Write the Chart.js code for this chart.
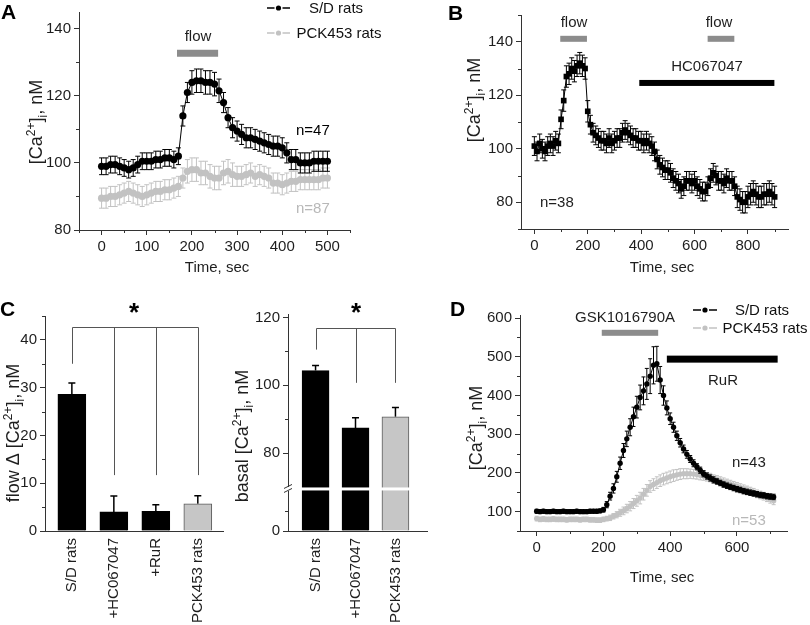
<!DOCTYPE html>
<html>
<head>
<meta charset="utf-8">
<script src="https://cdn.jsdelivr.net/npm/chart.js@4.4.0/dist/chart.umd.min.js"></script>
<style>
  html, body { margin: 0; padding: 0; background: #fff; }
  #figure { position: relative; width: 810px; height: 625px; overflow: hidden; background: #fff; }
  #figure canvas { position: absolute; }
</style>
</head>
<body>
<div id="figure"></div>
<script>
// ---- panel A: flow response, S/D vs PCK453 ----
const timeA = [0, 10, 20, 30, 40, 50, 60, 70, 80, 90, 100, 110, 120, 130, 140, 150, 160, 170, 180, 190,
  200, 210, 220, 230, 240, 250, 260, 270, 280, 290, 300, 310, 320, 330, 340, 350, 360, 370, 380, 390,
  400, 410, 420, 430, 440, 450, 460, 470, 480, 490, 500];
const sdA = [99, 99, 99.5, 99.5, 99, 98.5, 98, 98.5, 99.5, 100.5,
  100.5, 100.5, 101, 101, 101.5, 101.5, 101, 102, 114, 121,
  124, 124.5, 124.5, 124, 124, 123.5, 121.5, 118, 113.5, 110.5,
  109.5, 108.5, 107.5, 107.5, 107, 106.5, 106, 105.5, 105, 105,
  104.5, 103, 101, 101, 100, 100, 100, 100.5, 100.5, 100.5, 100.5];
const sdAErr = [2.5, 2.5, 2.5, 2.5, 2.5, 2.5, 2.5, 2.5, 2.5, 2.5,
  2.5, 2.5, 2.5, 2.5, 2.5, 2.5, 2.5, 2.5, 3, 3,
  3.5, 3.5, 3.5, 3.5, 3.5, 3.5, 3.5, 3, 3, 3,
  3, 3, 3, 3, 3, 3, 3, 3, 3, 3,
  3, 3, 3, 3, 3, 3, 3, 3, 3, 3, 3];
const pckA = [89.5, 89.5, 90, 90, 90.5, 91, 91.5, 91, 90.5, 90,
  90.5, 91, 91.5, 91.5, 92, 92, 92.5, 93, 95.5, 97.5,
  98, 98, 97, 97, 96, 95.5, 95.5, 97, 97.5, 96.5,
  96, 96, 96.5, 97, 96, 96.5, 96, 95.5, 94, 94,
  93.5, 94, 94.5, 94.5, 95, 95, 95, 95, 95, 95.5, 95.5];
const pckAErr = [3, 3, 3, 3, 3, 3, 3, 3, 3, 3,
  3, 3, 3, 3, 3, 3, 3, 3, 3, 3.5,
  3.5, 3.5, 3.5, 3.5, 3.5, 3.5, 3.5, 3.5, 3.5, 3.5,
  3, 3, 3, 3, 3, 3, 3, 3, 3, 3,
  3, 3, 3, 3, 3, 3, 3, 3, 3, 3, 3];
const xTicksA = [0, 100, 200, 300, 400, 500];
const yTicksA = [80, 100, 120, 140];

// ---- panel B: flow before / during HC067047 ----
const timeB = [0, 10, 20, 30, 40, 50, 60, 70, 80, 90, 100, 110, 120, 130, 140, 150, 160, 170, 180, 190,
  200, 210, 220, 230, 240, 250, 260, 270, 280, 290, 300, 310, 320, 330, 340, 350, 360, 370, 380, 390,
  400, 410, 420, 430, 440, 450, 460, 470, 480, 490, 500, 510, 520, 530, 540, 550, 560, 570, 580, 590,
  600, 610, 620, 630, 640, 650, 660, 670, 680, 690, 700, 710, 720, 730, 740, 750, 760, 770, 780, 790,
  800, 810, 820, 830, 840, 850, 860, 870, 880, 890, 900];
const sdB = [101, 99, 102, 100, 99, 101, 102, 101, 103, 102,
  111, 118, 127, 128, 130, 129, 131, 132, 131, 130,
  114, 109, 106, 105, 104, 103, 103, 102, 104, 102,
  103, 104, 104, 106, 107, 106, 105, 104, 104, 103,
  103, 102, 103, 102, 101, 99, 96, 94, 93, 92,
  92, 91, 89, 88, 87, 85, 86, 88, 88, 87,
  88, 86, 85, 84, 84, 86, 89, 91, 90, 88,
  88, 87, 89, 88, 88, 86, 82, 81, 80, 80,
  82, 83, 84, 83, 82, 82, 83, 83, 84, 83, 82];
const sdBErr = [3.5, 3.5, 3.5, 3.5, 3.5, 3.5, 3.5, 3.5, 3.5, 3.5,
  3.5, 4, 4, 4, 4, 4, 4, 4, 4, 4,
  4, 3.5, 3.5, 3.5, 3.5, 3.5, 3.5, 3.5, 3.5, 3.5,
  3.5, 3.5, 3.5, 3.5, 3.5, 3.5, 3.5, 3.5, 3.5, 3.5,
  3.5, 3.5, 3.5, 3.5, 3.5, 3.5, 3.5, 3.5, 3.5, 3.5,
  3.5, 3.5, 3.5, 3.5, 3.5, 3.5, 3.5, 3.5, 3.5, 3.5,
  3.5, 3.5, 3.5, 3.5, 3.5, 3.5, 3.5, 3.5, 3.5, 3.5,
  3.5, 3.5, 3.5, 3.5, 3.5, 3.5, 4, 4, 4, 4,
  4, 4, 4, 4, 4, 4, 4, 4, 4, 4, 4];
const xTicksB = [0, 200, 400, 600, 800];
const yTicksB = [80, 100, 120, 140];

// ---- panel C: summary bars ----
const flowLabels = ['S/D rats', '+HC067047', '+RuR', 'PCK453 rats'];
const flowDelta = [28.6, 4.0, 4.1, 5.7];
const flowDeltaErr = [2.4, 3.3, 1.4, 1.7];
const yTicksFlow = [0, 10, 20, 30, 40];
const basalLabels = ['S/D rats', '+HC067047', 'PCK453 rats'];
const basalCa = [104.3, 87.4, 90.7];
const basalCaErr = [1.5, 3.0, 2.7];
const basalFloor = 57;            // axis position where the broken axis shows "0"
const yTicksBasal = [57, 80, 100, 120];

// ---- panel D: GSK1016790A response ----
const timeD = [0, 10, 20, 30, 40, 50, 60, 70, 80, 90, 100, 110, 120, 130, 140, 150, 160, 170, 180, 190,
  200, 210, 220, 230, 240, 250, 260, 270, 280, 290, 300, 310, 320, 330, 340, 350, 360, 370, 380, 390,
  400, 410, 420, 430, 440, 450, 460, 470, 480, 490, 500, 510, 520, 530, 540, 550, 560, 570, 580, 590,
  600, 610, 620, 630, 640, 650, 660, 670, 680, 690, 700, 710];
const sdD = [101, 100, 101, 100, 100, 101, 100, 100, 101, 100, 100, 100, 101, 100, 100, 100, 101, 101, 101, 102,
  105, 118, 140, 160, 190, 225, 258, 288, 318, 345,
  370, 395, 412, 430, 450, 478, 482, 440, 400, 368,
  340, 318, 296, 278, 262, 248, 236, 225, 216, 207,
  198, 192, 187, 182, 178, 174, 170, 167, 164, 161,
  158, 156, 153, 151, 149, 147, 145, 143, 142, 140,
  139, 138];
const sdDErr = [5, 5, 5, 5, 5, 5, 5, 5, 5, 5, 5, 5, 5, 5, 5, 5, 5, 5, 5, 5,
  6, 8, 10, 12, 14, 16, 18, 20, 22, 25,
  28, 32, 36, 40, 45, 48, 45, 35, 25, 18,
  15, 13, 12, 11, 10, 10, 9, 9, 8, 8,
  8, 8, 8, 8, 7, 7, 7, 7, 7, 7,
  7, 7, 7, 7, 7, 7, 7, 7, 7, 7,
  7, 7];
const pckD = [82, 80, 81, 80, 80, 81, 80, 80, 80, 79, 80, 80, 80, 79, 80, 80, 79, 79, 78, 78,
  80, 82, 84, 88, 92, 97, 102, 108, 114, 121,
  128, 135, 145, 155, 165, 170, 175, 180, 184, 187,
  190, 193, 195, 197, 198, 198, 198, 197, 196, 194,
  192, 190, 188, 185, 183, 180, 177, 174, 171, 168,
  165, 162, 159, 156, 153, 150, 146, 143, 140, 136,
  132, 128];
const pckDErr = [6, 6, 6, 6, 6, 6, 6, 6, 6, 6, 6, 6, 6, 6, 6, 6, 6, 6, 6, 6,
  6, 6, 7, 7, 8, 9, 10, 11, 12, 13,
  14, 15, 15, 15, 15, 15, 15, 15, 15, 15,
  15, 15, 14, 14, 13, 13, 12, 12, 12, 12,
  11, 11, 11, 10, 10, 10, 10, 10, 10, 10,
  10, 10, 10, 10, 10, 10, 10, 10, 10, 10,
  10, 10];
const xTicksD = [0, 200, 400, 600];
const yTicksD = [100, 200, 300, 400, 500, 600];

// ---- look ----
const FONT = '"Liberation Sans", Arial, Helvetica, sans-serif';
const AXIS = '#333';
const TXT = '#1e1e1e';
const GRAY = '#c2c2c2';
const FLOW = '#8c8c8c';
Chart.defaults.font.family = FONT;
Chart.defaults.font.size = 15;
Chart.defaults.color = TXT;

const CA = [{ t: '[Ca' }, { t: '2+', sup: true }, { t: ']' }, { t: 'i', sub: true }, { t: ', nM' }];
const withPrefix = p => [{ t: p + CA[0].t }].concat(CA.slice(1));
const TITLE_SIZE = 18;

// page boxes [left, top, width, height]
const BOX_A = [0, 0, 405, 292];
const BOX_B = [405, 0, 405, 292];
const BOX_C1 = [0, 295, 230, 330];
const BOX_C2 = [230, 295, 210, 330];
const BOX_D = [440, 295, 370, 330];

function makeCanvas(box) {
  const c = document.createElement('canvas');
  c.width = box[2]; c.height = box[3];
  c.style.left = box[0] + 'px'; c.style.top = box[1] + 'px';
  c.style.width = box[2] + 'px'; c.style.height = box[3] + 'px';
  document.getElementById('figure').appendChild(c);
  return c;
}

function drawText(ctx, parts, x, y, o) {
  const size = o.size || 15, small = Math.round(size * 0.68);
  const fontOf = p => (o.bold ? 'bold ' : '') + (p.sup || p.sub ? small : size) + 'px ' + FONT;
  ctx.save();
  ctx.translate(x, y);
  if (o.rotate) ctx.rotate(o.rotate * Math.PI / 180);
  let w = 0;
  parts.forEach(p => { ctx.font = fontOf(p); w += ctx.measureText(p.t).width; });
  let cx = o.align === 'left' ? 0 : -w / 2;
  ctx.fillStyle = o.color || TXT;
  ctx.textAlign = 'left';
  ctx.textBaseline = 'alphabetic';
  const base = size * 0.36;
  parts.forEach(p => {
    ctx.font = fontOf(p);
    const dy = p.sup ? -size * 0.42 : p.sub ? size * 0.25 : 0;
    ctx.fillText(p.t, cx, base + dy);
    cx += ctx.measureText(p.t).width;
  });
  ctx.restore();
}

// error bars from dataset.errors, in data units
const errorBars = {
  id: 'errorBars',
  beforeDatasetDraw(chart, args) {
    const ds = chart.data.datasets[args.index];
    if (!ds.errors) return;
    const ctx = chart.ctx, ys = chart.scales.y;
    ctx.save();
    ctx.strokeStyle = ds.errorColor;
    ctx.lineWidth = ds.errorWidth || 1;
    args.meta.data.forEach((el, i) => {
      const v = args.meta.controller.getParsed(i).y;
      const e = ds.errors[i];
      const top = ys.getPixelForValue(v + e);
      const bot = ds.errorsUp ? el.y : ys.getPixelForValue(v - e);
      const h = ds.capHalf;
      ctx.beginPath();
      ctx.moveTo(el.x, top); ctx.lineTo(el.x, bot);
      ctx.moveTo(el.x - h, top); ctx.lineTo(el.x + h, top);
      if (!ds.errorsUp) { ctx.moveTo(el.x - h, bot); ctx.lineTo(el.x + h, bot); }
      ctx.stroke();
    });
    ctx.restore();
  }
};

// short outward ticks between the labelled ones
function minorTicks(spec) {
  return {
    id: 'minorTicks',
    afterDraw(chart) {
      const ctx = chart.ctx;
      ctx.save();
      ctx.strokeStyle = AXIS;
      ctx.lineWidth = 1;
      ['x', 'y'].forEach(k => {
        const step = spec[k];
        if (!step) return;
        const s = chart.scales[k];
        const majors = s.ticks.map(t => t.value);
        let vals = [];
        if (Array.isArray(step)) vals = step;
        else for (let v = Math.ceil(s.min / step) * step; v <= s.max; v += step) if (!majors.includes(v)) vals.push(v);
        vals.forEach(v => {
          const p = Math.round(s.getPixelForValue(v)) + 0.5;
          ctx.beginPath();
          if (k === 'x') { ctx.moveTo(p, s.top); ctx.lineTo(p, s.top + 3); }
          else { ctx.moveTo(s.right, p); ctx.lineTo(s.right - 3, p); }
          ctx.stroke();
        });
      });
      ctx.restore();
    }
  };
}

// labels, treatment bars, brackets, legend
function decor(box, spec) {
  return {
    id: 'decor',
    afterDraw(chart) {
      const ctx = chart.ctx, xs = chart.scales.x, ys = chart.scales.y;
      const ox = box[0], oy = box[1];
      ctx.save();
      (spec.spans || []).forEach(s => {
        const x0 = xs.getPixelForValue(s.from), x1 = xs.getPixelForValue(s.to);
        const y = ys.getPixelForValue(s.at);
        ctx.fillStyle = s.color;
        ctx.fillRect(x0, y - s.thick / 2, x1 - x0, s.thick);
      });
      (spec.brackets || []).forEach(b => {
        ctx.strokeStyle = '#555';
        ctx.lineWidth = 1;
        const yt = Math.round(ys.getPixelForValue(b.top)) + 0.5;
        const xsPix = b.legs.map(l => Math.round(xs.getPixelForValue(l[0])) + 0.5);
        ctx.beginPath();
        ctx.moveTo(xsPix[0], yt); ctx.lineTo(xsPix[xsPix.length - 1], yt);
        b.legs.forEach((l, i) => { ctx.moveTo(xsPix[i], yt); ctx.lineTo(xsPix[i], ys.getPixelForValue(l[1])); });
        ctx.stroke();
      });
      if (spec.breakAt != null) {
        const yb = ys.getPixelForValue(spec.breakAt), ax = xs.left;
        ctx.fillStyle = '#fff';
        ctx.fillRect(ax + 1, yb - 1.5, xs.right - ax, 3);
        ctx.fillRect(ax - 2, yb - 2, 4, 4);
        ctx.strokeStyle = AXIS;
        ctx.lineWidth = 1;
        ctx.beginPath();
        ctx.moveTo(ax - 4, yb - 0.5); ctx.lineTo(ax + 4, yb - 4.5);
        ctx.moveTo(ax - 4, yb + 3.5); ctx.lineTo(ax + 4, yb - 0.5);
        ctx.stroke();
      }
      (spec.legend || []).forEach(l => {
        const x0 = l.x0 - ox, x1 = l.x1 - ox, y = l.y - oy, c = (x0 + x1) / 2;
        ctx.strokeStyle = l.color;
        ctx.fillStyle = l.color;
        ctx.lineWidth = 1.3;
        ctx.beginPath();
        ctx.moveTo(x0, y); ctx.lineTo(c - 4, y);
        ctx.moveTo(c + 4, y); ctx.lineTo(x1, y);
        ctx.stroke();
        ctx.beginPath();
        ctx.arc(c, y, 2.6, 0, Math.PI * 2);
        ctx.fill();
        drawText(ctx, [{ t: l.text }], l.tx - ox, y, { color: '#111' });
      });
      (spec.texts || []).forEach(t => drawText(ctx, t.parts || [{ t: t.text }], t.x - ox, t.y - oy, t));
      ctx.restore();
    }
  };
}

function valueAxis(k, min, max, majors, thickness, labelFn) {
  const ax = {
    type: 'linear', min, max, offset: false,
    afterBuildTicks: s => { s.ticks = majors.map(v => ({ value: v })); },
    afterFit: s => { if (k === 'x') s.height = thickness; else s.width = thickness; },
    grid: { drawOnChartArea: false, drawTicks: true, tickLength: 5, color: AXIS },
    border: { color: AXIS, width: 1 },
    ticks: { color: TXT, font: { size: 15 }, padding: 3, autoSkip: false, maxRotation: 0 }
  };
  if (labelFn) ax.ticks.callback = labelFn;
  return ax;
}

function categoryAxis(labels, min, max, thickness) {
  return {
    type: 'linear', min, max, offset: false,
    afterBuildTicks: s => { s.ticks = labels.map((_, i) => ({ value: i })); },
    afterFit: s => { s.height = thickness; },
    grid: { display: false, drawTicks: false },
    border: { color: AXIS, width: 1 },
    ticks: { color: TXT, font: { size: 15 }, padding: 7, autoSkip: false, minRotation: 90, maxRotation: 90,
      callback: v => labels[v] }
  };
}

function baseOptions(pad, scales) {
  return {
    responsive: false, animation: false, events: [],
    layout: { padding: Object.assign({ left: 0, top: 0, right: 0, bottom: 0 }, pad) },
    plugins: { legend: { display: false }, tooltip: { enabled: false } },
    scales
  };
}

function series(label, times, vals, errs, color, style) {
  return Object.assign({
    label,
    data: times.map((t, i) => ({ x: t, y: vals[i] })),
    errors: errs, errorColor: color, capHalf: 2.5,
    showLine: true, borderColor: color, backgroundColor: color, borderWidth: 1,
    pointBorderWidth: 0, pointRadius: 3
  }, style || {});
}

// ---- A ----
new Chart(makeCanvas(BOX_A), {
  type: 'scatter',
  data: { datasets: [
    series('S/D rats', timeA, sdA, sdAErr, '#000', { pointRadius: 3.6 }),
    series('PCK453 rats', timeA, pckA, pckAErr, GRAY, { pointRadius: 3.6 })
  ] },
  options: baseOptions({ top: 10, right: 55 }, {
    x: valueAxis('x', -50, 550, xTicksA, 62),
    y: valueAxis('y', 80, 145, yTicksA, 79)
  }),
  plugins: [errorBars, minorTicks({ x: 50, y: 10 }), decor(BOX_A, {
    spans: [{ from: 167, to: 258, at: 132.7, thick: 7, color: FLOW }],
    legend: [
      { x0: 267, x1: 290, y: 8, color: '#000', text: 'S/D rats', tx: 336 },
      { x0: 267, x1: 290, y: 33, color: GRAY, text: 'PCK453 rats', tx: 339 }
    ],
    texts: [
      { text: 'A', x: 1, y: 11, size: 21, bold: true, align: 'left', color: '#000' },
      { text: 'flow', x: 198, y: 36 },
      { text: 'n=47', x: 296, y: 130, align: 'left', color: '#000' },
      { text: 'n=87', x: 296, y: 208, align: 'left', color: '#b8b8b8' },
      { parts: CA, x: 36, y: 122, rotate: -90, size: TITLE_SIZE },
      { text: 'Time, sec', x: 217, y: 267 }
    ]
  })]
});

// ---- B ----
new Chart(makeCanvas(BOX_B), {
  type: 'scatter',
  data: { datasets: [
    series('S/D rats', timeB, sdB, sdBErr, '#000', { pointStyle: 'rect', pointRadius: 4 })
  ] },
  options: baseOptions({ top: 15, right: 22 }, {
    x: valueAxis('x', -50, 950, xTicksB, 63),
    y: valueAxis('y', 70, 150, yTicksB, 116)
  }),
  plugins: [errorBars, minorTicks({ x: 100, y: 10 }), decor(BOX_B, {
    spans: [
      { from: 97, to: 197, at: 141.1, thick: 6, color: FLOW },
      { from: 649, to: 749, at: 141.1, thick: 6, color: FLOW },
      { from: 393, to: 899, at: 124.6, thick: 6, color: '#000' }
    ],
    texts: [
      { text: 'B', x: 448, y: 12, size: 21, bold: true, align: 'left', color: '#000' },
      { text: 'flow', x: 574, y: 22 },
      { text: 'flow', x: 719, y: 22 },
      { text: 'HC067047', x: 707, y: 66 },
      { text: 'n=38', x: 540, y: 202, align: 'left' },
      { parts: CA, x: 474, y: 100, rotate: -90, size: TITLE_SIZE },
      { text: 'Time, sec', x: 662, y: 267 }
    ]
  })]
});

// ---- C left: flow delta ----
new Chart(makeCanvas(BOX_C1), {
  type: 'bar',
  data: { datasets: [{
    data: flowLabels.map((_, i) => ({ x: i, y: flowDelta[i] })),
    errors: flowDeltaErr, errorsUp: true, errorColor: '#000', errorWidth: 1.5, capHalf: 3.5,
    backgroundColor: ['#000', '#000', '#000', '#c6c6c6'],
    borderColor: ['#000', '#000', '#000', '#5a5a5a'],
    borderWidth: 1, barThickness: 28
  }] },
  options: baseOptions({ top: 21, right: 7 }, {
    x: categoryAxis(flowLabels, -0.64, 3.6, 94),
    y: valueAxis('y', 0, 45, yTicksFlow, 45)
  }),
  plugins: [errorBars, minorTicks({ y: 5 }), decor(BOX_C1, {
    brackets: [{ top: 42.7, legs: [[0, 35], [1, 11.7], [2, 11.7], [3, 11.7]] }],
    texts: [
      { text: 'C', x: 0, y: 308, size: 21, bold: true, align: 'left', color: '#000' },
      { text: '*', x: 134, y: 312, size: 26, bold: true, color: '#000' },
      { parts: withPrefix('flow \u0394 '), x: 13, y: 433, rotate: -90, size: TITLE_SIZE }
    ]
  })]
});

// ---- C right: basal level, broken axis ----
new Chart(makeCanvas(BOX_C2), {
  type: 'bar',
  data: { datasets: [{
    data: basalLabels.map((_, i) => ({ x: i, y: basalCa[i] })),
    base: basalFloor,
    errors: basalCaErr, errorsUp: true, errorColor: '#000', errorWidth: 1.5, capHalf: 3.5,
    backgroundColor: ['#000', '#000', '#c6c6c6'],
    borderColor: ['#000', '#000', '#5a5a5a'],
    borderWidth: 1, barThickness: 27
  }] },
  options: baseOptions({ top: 19, right: 13 }, {
    x: categoryAxis(basalLabels, -0.69, 2.79, 94),
    y: valueAxis('y', basalFloor, 121, yTicksBasal, 58, v => (v === basalFloor ? '0' : v))
  }),
  plugins: [errorBars, minorTicks({ y: [63, 90, 110] }), decor(BOX_C2, {
    brackets: [{ top: 117, legs: [[0, 110.5], [1, 100.7], [2, 100.7]] }],
    breakAt: 69.4,
    texts: [
      { text: '*', x: 356, y: 312, size: 26, bold: true, color: '#000' },
      { parts: withPrefix('basal '), x: 242, y: 436, rotate: -90, size: TITLE_SIZE }
    ]
  })]
});

// ---- D ----
new Chart(makeCanvas(BOX_D), {
  type: 'scatter',
  data: { datasets: [
    series('S/D rats', timeD, sdD, sdDErr, '#000', { pointRadius: 2.7, capHalf: 2 }),
    series('PCK453 rats', timeD, pckD, pckDErr, GRAY, { pointRadius: 2.7, capHalf: 2 })
  ] },
  options: baseOptions({ top: 20, right: 23 }, {
    x: valueAxis('x', -50, 750, xTicksD, 94),
    y: valueAxis('y', 50, 608, yTicksD, 80)
  }),
  plugins: [errorBars, minorTicks({ x: 100, y: 50 }), decor(BOX_D, {
    spans: [
      { from: 195, to: 364, at: 562, thick: 6, color: FLOW },
      { from: 390, to: 722, at: 494, thick: 7, color: '#000' }
    ],
    legend: [
      { x0: 693, x1: 717, y: 310, color: '#000', text: 'S/D rats', tx: 762 },
      { x0: 693, x1: 717, y: 328, color: GRAY, text: 'PCK453 rats', tx: 765 }
    ],
    texts: [
      { text: 'D', x: 450, y: 308, size: 21, bold: true, align: 'left', color: '#000' },
      { text: 'GSK1016790A', x: 625, y: 317 },
      { text: 'RuR', x: 723, y: 380 },
      { text: 'n=43', x: 732, y: 462, align: 'left' },
      { text: 'n=53', x: 732, y: 520, align: 'left', color: '#b8b8b8' },
      { parts: CA, x: 476, y: 428, rotate: -90, size: TITLE_SIZE },
      { text: 'Time, sec', x: 662, y: 577 }
    ]
  })]
});
</script>
</body>
</html>
